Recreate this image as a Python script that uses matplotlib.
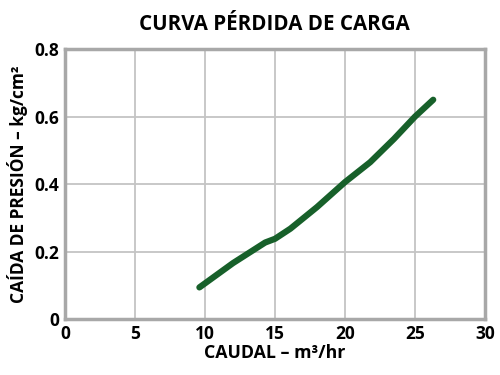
import matplotlib
matplotlib.use("Agg")
import matplotlib.pyplot as plt

# flow (m3/hr) vs pressure drop (kg/cm2)
caudal = [9.6, 12.0, 14.3, 15.0, 16.1, 18.0, 20.0, 21.8, 23.5, 25.0, 26.3]
perdida = [0.094, 0.166, 0.227, 0.238, 0.268, 0.332, 0.406, 0.465, 0.534, 0.600, 0.650]

x_ticks = [0, 5, 10, 15, 20, 25, 30]
y_ticks = [0, 0.2, 0.4, 0.6, 0.8]
y_labels = ["0", "0.2", "0.4", "0.6", "0.8"]

plt.rcParams['font.family'] = ['Open Sans', 'DejaVu Sans']

fig = plt.figure(figsize=(5, 3.75), dpi=100)
ax = fig.add_axes([0.13, 0.149, 0.84, 0.72])

ax.plot(caudal, perdida, color='#17602a', linewidth=4.5, solid_capstyle='round')

ax.set_xlim(0, 30)
ax.set_ylim(0, 0.8)
ax.set_xticks(x_ticks)
ax.set_yticks(y_ticks)
ax.set_yticklabels(y_labels)
ax.grid(True, color='#c4c4c4', linewidth=1.3)
ax.set_axisbelow(True)
for s in ax.spines.values():
    s.set_color('#a8a8a8')
    s.set_linewidth(2.5)
ax.tick_params(length=0, pad=4, labelsize=12.5)
for lbl in ax.get_xticklabels() + ax.get_yticklabels():
    lbl.set_fontweight('bold')

ax.set_xlabel('CAUDAL – m³/hr', fontsize=12.8, fontweight='bold', labelpad=1)
ax.set_ylabel('CAÍDA DE PRESIÓN – kg/cm²', fontsize=12.5, fontweight='bold', labelpad=5)
fig.text(0.548, 0.935, 'CURVA PÉRDIDA DE CARGA', ha='center', va='center',
         fontsize=14.8, fontweight='bold')

fig.savefig('out.png', dpi=100)
